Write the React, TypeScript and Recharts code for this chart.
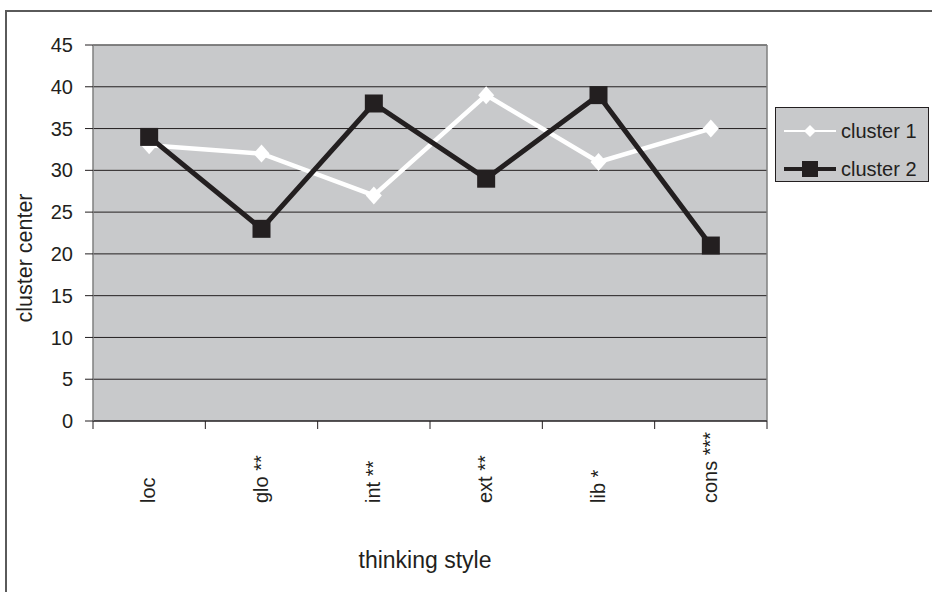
import { CartesianGrid, Line, LineChart, ReferenceLine, XAxis, YAxis } from "recharts";

const styles = ["loc", "glo **", "int **", "ext **", "lib *", "cons ***"];
const cluster1 = [33, 32, 27, 39, 31, 35];
const cluster2 = [34, 23, 38, 29, 39, 21];
const yTicks = [0, 5, 10, 15, 20, 25, 30, 35, 40, 45];

// each category sits in the middle of its band, bands bounded by integer ticks
const data = styles.map((name, i) => ({ x: i + 0.5, name, c1: cluster1[i], c2: cluster2[i] }));
const xTicks = styles.flatMap((_, i) => [i, i + 0.5]).concat(styles.length);

const FONT = '"Liberation Sans", Arial, sans-serif';
const INK = "#231f20";
const PLOT_BG = "#c8c9cb";

const XTick = (props: any) => {
  const { x, y, payload } = props;
  const v = payload.value as number;
  if (Number.isInteger(v)) {
    return <line x1={x} y1={y} x2={x} y2={y + 8} stroke={INK} strokeWidth={1} />;
  }
  const ty = y + 82;
  return (
    <text
      x={x - 1}
      y={ty}
      transform={`rotate(-90 ${x - 1} ${ty})`}
      textAnchor="start"
      dominantBaseline="central"
      fontSize={20}
      fontFamily={FONT}
      fill={INK}
    >
      {styles[Math.floor(v)]}
    </text>
  );
};

const YLabel = (props: any) => {
  const { viewBox } = props;
  const cx = viewBox.x + 25;
  const cy = viewBox.y + viewBox.height / 2 + 25;
  return (
    <text
      x={cx}
      y={cy}
      transform={`rotate(-90 ${cx} ${cy})`}
      textAnchor="middle"
      dominantBaseline="central"
      fontSize={21.5}
      fontFamily={FONT}
      fill={INK}
    >
      cluster center
    </text>
  );
};

const XLabel = (props: any) => {
  const { viewBox } = props;
  return (
    <text
      x={viewBox.x + viewBox.width / 2 - 5}
      y={viewBox.y + 139}
      textAnchor="middle"
      dominantBaseline="central"
      fontSize={23}
      fontFamily={FONT}
      fill={INK}
    >
      thinking style
    </text>
  );
};

const Diamond = (props: any) => {
  const { cx, cy } = props;
  if (cx == null || cy == null) return <g />;
  return <path d={`M${cx} ${cy - 9} L${cx + 8} ${cy} L${cx} ${cy + 9} L${cx - 8} ${cy} Z`} fill="#ffffff" />;
};

const Square = (props: any) => {
  const { cx, cy } = props;
  if (cx == null || cy == null) return <g />;
  return <rect x={cx - 9} y={cy - 9} width={18} height={18} fill={INK} />;
};

function LegendBox() {
  const row = (label: string, color: string, marker: "diamond" | "square", top: number) => (
    <div style={{ position: "absolute", left: 6, top, height: 24, display: "flex", alignItems: "center" }}>
      <svg width={54} height={24}>
        <line x1={2} y1={12} x2={54} y2={12} stroke={color} strokeWidth={marker === "square" ? 4 : 2} />
        {marker === "diamond" ? (
          <path d="M28 6 L34 12 L28 18 L22 12 Z" fill="#ffffff" />
        ) : (
          <rect x={20} y={4} width={16} height={16} fill={INK} />
        )}
      </svg>
      <span style={{ marginLeft: 5, fontSize: 20, fontFamily: FONT, color: INK, whiteSpace: "nowrap" }}>{label}</span>
    </div>
  );
  return (
    <div
      style={{
        position: "absolute",
        left: 775,
        top: 107,
        width: 152,
        height: 73,
        border: `1.5px solid ${INK}`,
        background: PLOT_BG,
      }}
    >
      {row("cluster 1", "#ffffff", "diamond", 11)}
      {row("cluster 2", INK, "square", 49)}
    </div>
  );
}

export default function App() {
  return (
    <div
      style={{
        position: "absolute",
        left: 0,
        top: 0,
        width: 932,
        height: 592,
        overflow: "hidden",
        background: "#ffffff",
      }}
    >
      <div
        style={{
          position: "absolute",
          left: 5,
          top: 10,
          width: 1000,
          height: 700,
          border: "2px solid #5a5a5a",
        }}
      />
      <div style={{ position: "absolute", left: 0, top: 0 }}>
        <LineChart
          width={932}
          height={592}
          data={data}
          margin={{ top: 45, right: 165, bottom: 21, left: 0 }}
        >
          <CartesianGrid horizontal vertical={false} stroke={INK} fill={PLOT_BG} fillOpacity={1} />
          <XAxis
            type="number"
            dataKey="x"
            domain={[0, styles.length]}
            ticks={xTicks}
            interval={0}
            height={150}
            tickLine={false}
            tickSize={0}
            tickMargin={0}
            tick={<XTick />}
            axisLine={{ stroke: INK, strokeWidth: 1 }}
            label={<XLabel />}
          />
          <YAxis
            domain={[0, 45]}
            ticks={yTicks}
            interval={0}
            width={93}
            tickSize={8}
            tickMargin={12}
            tickLine={{ stroke: INK }}
            axisLine={{ stroke: "#7f7f7f", strokeWidth: 1.5 }}
            tick={{ fill: INK, fontSize: 20, fontFamily: FONT }}
            label={<YLabel />}
          />
          <ReferenceLine y={45} stroke="#7f7f7f" strokeWidth={1.5} />
          <ReferenceLine x={styles.length} stroke="#7f7f7f" strokeWidth={1.5} />
          <Line
            type="linear"
            dataKey="c1"
            stroke="#ffffff"
            strokeWidth={4.5}
            dot={<Diamond />}
            activeDot={false}
            isAnimationActive={false}
          />
          <Line
            type="linear"
            dataKey="c2"
            stroke={INK}
            strokeWidth={5}
            dot={<Square />}
            activeDot={false}
            isAnimationActive={false}
          />
        </LineChart>
      </div>
      <LegendBox />
    </div>
  );
}
